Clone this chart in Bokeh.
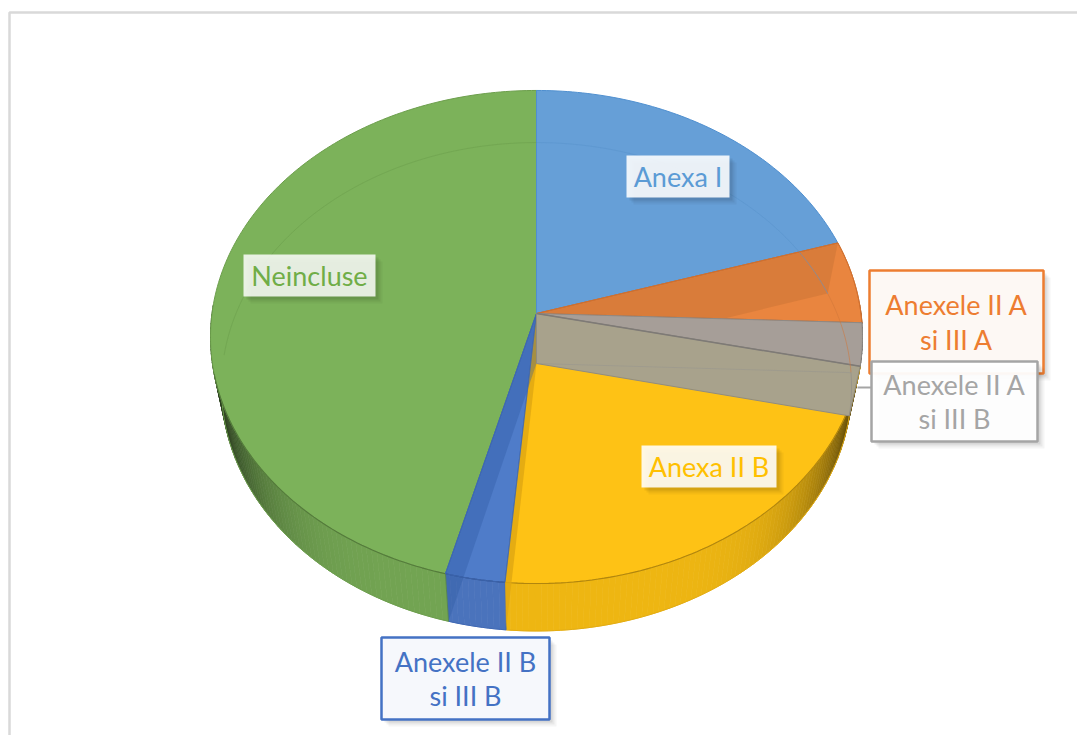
import numpy as np
from bokeh.plotting import figure
from bokeh.models import Range1d
from bokeh.core.properties import value
from bokeh.embed import file_html
from bokeh.resources import INLINE

# ---- data -------------------------------------------------------------
categories = ["Anexa I", "Anexele II A\nsi III A", "Anexele II A\nsi III B", "Anexa II B", "Anexele II B\nsi III B", "Neincluse"]
shares = [20.2, 5.4, 2.8, 23.0, 2.7, 45.9]
top_colors = ["#669FD7", "#E9853F", "#A69E98", "#FEC215", "#4F7CC9", "#7CB25A"]
edge_colors = ["#4F8FCF", "#D0702F", "#8E8E8E", "#E3AC12", "#3F68B4", "#6C9E4C"]
text_colors = ["#5B9BD5", "#ED7D31", "#A5A5A5", "#FFC000", "#4472C4", "#70AD47"]

# ---- projection of the tilted disc (in reference pixels) --------------
CX, W = 536.0, 0.0953
TOP = dict(ay=313.0, K=324.5, k=244.3)
BOT = dict(ay=363.0, K=313.6, k=242.0)

def pt(deg, f):
    t = np.radians(np.asarray(deg, dtype=float))
    u, v = np.sin(t), np.cos(t)
    d = 1 + W * v
    return CX + f["K"] * u / d, f["ay"] - f["k"] * v / d

edges = np.concatenate([[0], np.cumsum(shares) / sum(shares) * 360])

def arc(a, b, f, n=None):
    n = n or max(2, int(abs(b - a)) + 2)
    return pt(np.linspace(a, b, n), f)

def mix(hex_c, factor):
    r, g, b = int(hex_c[1:3], 16), int(hex_c[3:5], 16), int(hex_c[5:7], 16)
    return "#%02x%02x%02x" % (int(r * factor), int(g * factor), int(b * factor))

p = figure(width=1077, height=735, x_range=Range1d(0, 1077), y_range=Range1d(735, 0),
           output_backend="svg", toolbar_location=None, min_border=0, background_fill_color="white",
           border_fill_color="white")
p.axis.visible = False
p.grid.visible = False
p.outline_line_color = None

# frame
p.line([9, 9, 1077], [735, 12, 12], line_color="#D9D9D9", line_width=2.5)

# ---- sides -------------------------------------------------------------
xs, ys, cs = [], [], []
for i in range(6):
    a, b = edges[i], edges[i + 1]
    lo, hi = max(a, 88), min(b, 272)
    if hi <= lo:
        continue
    steps = np.arange(lo, hi, 1.0).tolist() + [hi]
    base = mix(top_colors[i], 0.99) if i != 5 else "#79AD57"
    for s, e in zip(steps[:-1], steps[1:]):
        x1, y1 = pt([s, e], TOP)
        x2, y2 = pt([e, s], BOT)
        r = min(1.0, abs(x1.mean() - CX) / 320)
        fac = max(0.34, 0.95 - 0.58 * r ** 6.5)
        xs.append(list(x1) + list(x2)); ys.append(list(y1) + list(y2)); cs.append(mix(base, fac))
p.patches(xs, ys, fill_color=cs, line_color=cs, line_width=0.7)
for i in range(3, 6):
    a, b = edges[i], min(edges[i + 1], 272)
    x, y = arc(max(a, 88), b, BOT)
    p.line(x, y, line_color=edge_colors[i], line_width=1)

# ---- top faces ----------------------------------------------------------
def wedge(i):
    x, y = arc(edges[i], edges[i + 1], TOP)
    return [CX] + list(x), [TOP["ay"]] + list(y)

def wall(deg):
    x1, y1 = pt([deg], TOP)
    x2, y2 = pt([deg], BOT)
    return [CX, x1[0], x2[0], CX], [TOP["ay"], y1[0], y2[0], BOT["ay"]]

for i in [5, 0, 1, 3, 4]:
    wx, wy = wedge(i)
    p.patch(wx, wy, fill_color=top_colors[i], line_color=edge_colors[i], line_width=1)

# darker rim where the top meets the side
for i in range(3, 6):
    a, b = edges[i], min(edges[i + 1], 256)
    x, y = arc(a, b, TOP)
    p.line(x, y, line_color=mix(edge_colors[i], 0.78), line_width=1.1)

# seam lines continuing down the side
for deg, c in [(edges[3], "#C89A14"), (edges[4], "#3F68B4"), (edges[5], "#5C8A42")]:
    x1, y1 = pt([deg], TOP); x2, y2 = pt([deg], BOT)
    p.line([x1[0], x2[0]], [y1[0], y2[0]], line_color=c, line_width=1, line_alpha=0.8)

# inner walls seen through the transparent slices
wx, wy = wall(edges[1])
p.patch(wx, wy, fill_color="#9A5A2A", fill_alpha=0.2, line_color=None)
wx, wy = wedge(1)
p.line(wx + [wx[0]], wy + [wy[0]], line_color=edge_colors[1], line_width=1)
wx, wy = wall(edges[4])
p.patch(wx, wy, fill_color="#E0A812", fill_alpha=0.85, line_color=None)
wx, wy = wall(edges[5])
p.patch(wx, wy, fill_color="#2F5AA0", fill_alpha=0.35, line_color=None)
wx, wy = wedge(4)
p.line(wx + [wx[0]], wy + [wy[0]], line_color=edge_colors[4], line_width=0.8)

# gray slice
wx, wy = wedge(2)
p.patch(wx, wy, fill_color=top_colors[2], line_color="#8E8A86", line_width=1)
wx, wy = wall(edges[3])
p.patch(wx, wy, fill_color="#A8A28C", line_color="#908C80", line_width=1)
x1, y1 = pt([edges[2]], BOT)
p.line([CX, x1[0]], [BOT["ay"], y1[0]], line_color="#8E8E8E", line_width=0.8, line_alpha=0.45)
x1, y1 = pt([edges[3]], TOP)
p.line([CX, x1[0]], [TOP["ay"], y1[0]], line_color="#7E7A76", line_width=1.5)

# faint arc of the lower face, seen through the slices
for a, b, c in [(272, 360, "#6C9E4C"), (0, 72.8, "#5A94CC"), (72.8, 92.1, "#D0763A"), (92.1, 102.1, "#8E8A86")]:
    x, y = arc(a, b, BOT)
    p.line(x, y, line_color=c, line_width=1, line_alpha=0.55)

# ---- labels -------------------------------------------------------------
def box(x0, x1, y0, y1, fill, alpha, line=None, lw=0):
    for off, al in [(7, 0.04), (5, 0.05), (3, 0.07)]:
        p.quad(left=x0 + off, right=x1 + off, top=y0 + off, bottom=y1 + off,
               fill_color="#000000", fill_alpha=al, line_color=None)
    p.quad(left=x0, right=x1, top=y0, bottom=y1, fill_color=fill, fill_alpha=alpha,
           line_color=line, line_width=lw)

layout = [
    (626, 729, 155, 197, "#FFFFFF", 0.88, None, 0),
    (869, 1043, 270, 373, "#FDF8F4", 1.0, text_colors[1], 2.5),
    (871, 1037, 361, 441, "#FFFFFF", 0.95, text_colors[2], 2.5),
    (641, 776, 445, 487, "#FFFFFF", 0.88, None, 0),
    (381, 549, 637, 719, "#F6F8FC", 1.0, text_colors[4], 2.5),
    (243, 375, 254, 296, "#FFFFFF", 0.83, None, 0),
]
# leader
p.line([857, 871], [387, 387], line_color=text_colors[2], line_width=2)
for i in [0, 3, 5, 4, 1, 2]:
    x0, x1, y0, y1, f, al, ln, lw = layout[i]
    box(x0, x1, y0, y1, f, al, ln, lw)
    lines = categories[i].split("\n")
    cx, cy = (x0 + x1) / 2, (y0 + y1) / 2
    dy = 34.5
    for j, s in enumerate(lines):
        yy = cy + (j - (len(lines) - 1) / 2) * dy
        p.text([cx], [yy], text=[s], text_align="center", text_baseline="middle",
               text_color=text_colors[i], text_font=value("Lato"), text_font_size="27px")

open("out.html", "w").write(file_html(p, INLINE))
